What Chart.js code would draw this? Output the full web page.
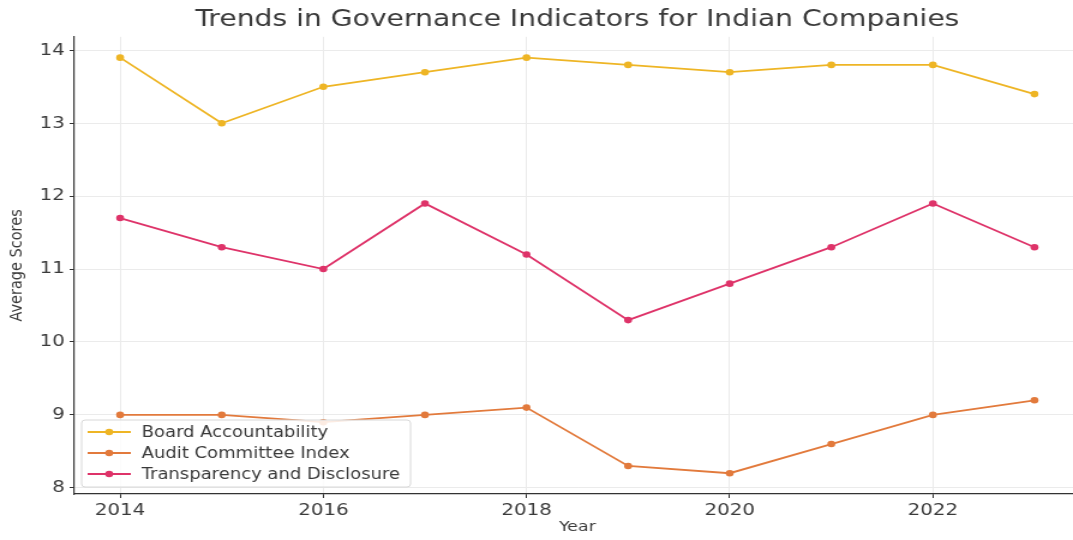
<!DOCTYPE html>
<html>
<head>
<meta charset="utf-8">
<title>Governance Indicators</title>
<script src="https://cdn.jsdelivr.net/npm/chart.js@4/dist/chart.umd.min.js"></script>
<style>
    html, body { margin: 0; padding: 0; background: #fff; overflow: hidden; }
</style>
</head>
<body>
<!-- canvas is drawn narrow and stretched sideways -->
<canvas id="trendChart" width="904" height="540" style="display:block;width:1084.8px;height:540px"></canvas>
<script>
const years = [2014, 2015, 2016, 2017, 2018, 2019, 2020, 2021, 2022, 2023];
const boardAccountability = [13.9, 13.0, 13.5, 13.7, 13.9, 13.8, 13.7, 13.8, 13.8, 13.4];
const auditCommittee = [9.0, 9.0, 8.9, 9.0, 9.1, 8.3, 8.2, 8.6, 9.0, 9.2];
const transparency = [11.7, 11.3, 11.0, 11.9, 11.2, 10.3, 10.8, 11.3, 11.9, 11.3];
const xTicks = [2014, 2016, 2018, 2020, 2022];
const yTicks = [8, 9, 10, 11, 12, 13, 14];

const FONT = '"DejaVu Sans", sans-serif';
const TEXT = '#3a3a3a';

function series(label, values, color) {
    return {
        label: label,
        data: years.map((y, i) => ({ x: y, y: values[i] })),
        borderColor: color,
        backgroundColor: color,
        borderWidth: 1.8,
        pointRadius: 3.3,
        pointBorderWidth: 0,
        pointBackgroundColor: color,
        tension: 0
    };
}

// legend box in the lower-left corner of the plot
const cornerLegend = {
    id: 'cornerLegend',
    afterDatasetsDraw(chart) {
        const ctx = chart.ctx;
        const area = chart.chartArea;
        const x0 = area.left + 6, y0 = 420, w = 274, h = 67;
        ctx.save();
        ctx.fillStyle = 'rgba(255,255,255,0.85)';
        ctx.strokeStyle = '#d8d8d8';
        ctx.lineWidth = 1;
        ctx.beginPath();
        ctx.roundRect(x0, y0, w, h, 3);
        ctx.fill();
        ctx.stroke();
        ctx.font = '15px ' + FONT;
        ctx.textBaseline = 'middle';
        chart.data.datasets.forEach((ds, i) => {
            const cy = y0 + 12 + i * 21;
            ctx.strokeStyle = ds.borderColor;
            ctx.lineWidth = 1.8;
            ctx.beginPath();
            ctx.moveTo(x0 + 5, cy);
            ctx.lineTo(x0 + 41, cy);
            ctx.stroke();
            ctx.fillStyle = ds.borderColor;
            ctx.beginPath();
            ctx.arc(x0 + 23, cy, 3.3, 0, Math.PI * 2);
            ctx.fill();
            ctx.fillStyle = TEXT;
            ctx.fillText(ds.label, x0 + 50, cy + 1);
        });
        ctx.restore();
    }
};

new Chart(document.getElementById('trendChart'), {
    type: 'line',
    data: {
        datasets: [
            series('Board Accountability', boardAccountability, '#eeb525'),
            series('Audit Committee Index', auditCommittee, '#e27a3c'),
            series('Transparency and Disclosure', transparency, '#de3369')
        ]
    },
    options: {
        responsive: false,
        animation: false,
        layout: { padding: { left: 0, right: 2, top: 0, bottom: 0 } },
        plugins: {
            legend: { display: false },
            tooltip: { enabled: false },
            title: {
                display: true,
                fullSize: false,
                text: 'Trends in Governance Indicators for Indian Companies',
                color: TEXT,
                font: { family: FONT, size: 23.5, weight: 'normal', lineHeight: 1.1 },
                padding: { top: 7, bottom: 4 }
            }
        },
        scales: {
            x: {
                type: 'linear',
                min: 2013.55,
                max: 2023.45,
                afterBuildTicks: (scale) => { scale.ticks = xTicks.map(v => ({ value: v })); },
                afterFit: (scale) => { scale.height = 46; },
                ticks: {
                    color: TEXT,
                    font: { family: FONT, size: 16.5 },
                    padding: 3,
                    maxRotation: 0,
                    callback: (v) => String(v)
                },
                grid: { color: '#ebebeb', lineWidth: 1, tickLength: 4, tickColor: '#333' },
                border: { color: '#333', width: 1.2 },
                title: {
                    display: true,
                    text: 'Year',
                    color: TEXT,
                    font: { family: FONT, size: 14.5 },
                    padding: { top: 0, bottom: 4 }
                }
            },
            y: {
                min: 7.915,
                max: 14.185,
                afterBuildTicks: (scale) => { scale.ticks = yTicks.map(v => ({ value: v })); },
                afterFit: (scale) => { scale.width = 62; },
                ticks: {
                    color: TEXT,
                    font: { family: FONT, size: 16.5 },
                    padding: 4,
                    callback: (v) => String(v)
                },
                grid: { color: '#ebebeb', lineWidth: 1, tickLength: 4, tickColor: '#333' },
                border: { color: '#333', width: 1.2 },
                title: {
                    display: true,
                    text: 'Average Scores',
                    color: TEXT,
                    font: { family: FONT, size: 14.5 },
                    padding: { top: 6, bottom: 0 }
                }
            }
        }
    },
    plugins: [cornerLegend]
});
</script>
</body>
</html>
